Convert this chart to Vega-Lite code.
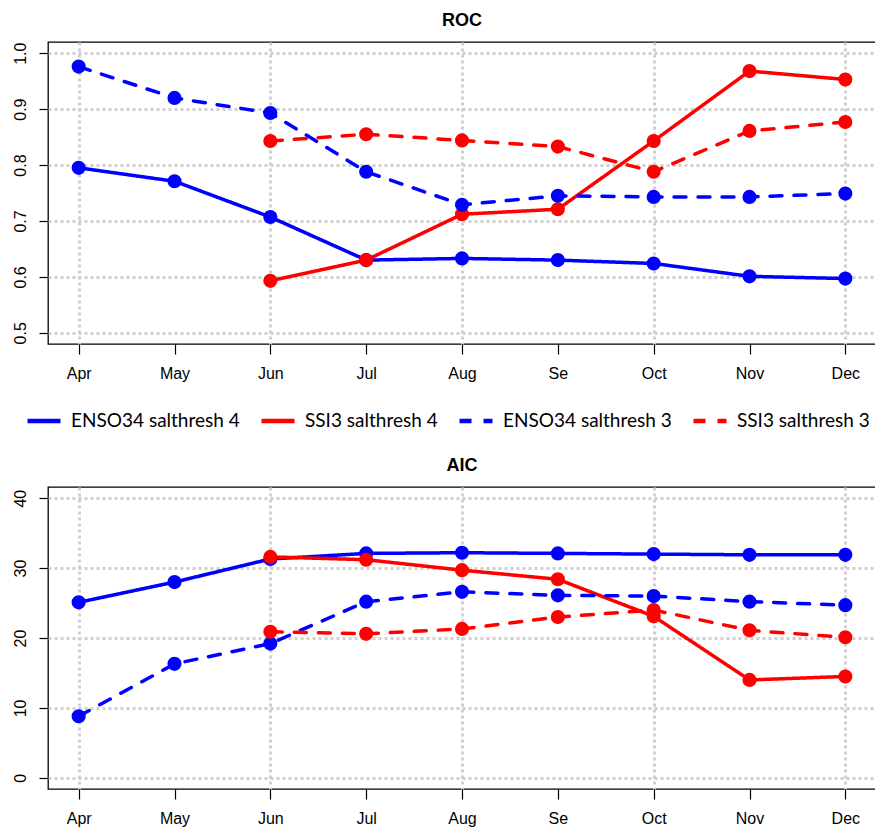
{
  "$schema": "https://vega.github.io/schema/vega-lite/v6.json",
  "padding": {"left": 11, "top": 11, "right": 0, "bottom": 0},
  "background": "white",
  "datasets": {
    "all": [
      {"metric": "ROC", "month": "Apr", "series": "ENSO34 salthresh 4", "value": 0.795},
      {"metric": "ROC", "month": "May", "series": "ENSO34 salthresh 4", "value": 0.771},
      {"metric": "ROC", "month": "Jun", "series": "ENSO34 salthresh 4", "value": 0.707},
      {"metric": "ROC", "month": "Jul", "series": "ENSO34 salthresh 4", "value": 0.630},
      {"metric": "ROC", "month": "Aug", "series": "ENSO34 salthresh 4", "value": 0.633},
      {"metric": "ROC", "month": "Se", "series": "ENSO34 salthresh 4", "value": 0.630},
      {"metric": "ROC", "month": "Oct", "series": "ENSO34 salthresh 4", "value": 0.624},
      {"metric": "ROC", "month": "Nov", "series": "ENSO34 salthresh 4", "value": 0.601},
      {"metric": "ROC", "month": "Dec", "series": "ENSO34 salthresh 4", "value": 0.597},
      {"metric": "ROC", "month": "Jun", "series": "SSI3 salthresh 4", "value": 0.593},
      {"metric": "ROC", "month": "Jul", "series": "SSI3 salthresh 4", "value": 0.630},
      {"metric": "ROC", "month": "Aug", "series": "SSI3 salthresh 4", "value": 0.712},
      {"metric": "ROC", "month": "Se", "series": "SSI3 salthresh 4", "value": 0.721},
      {"metric": "ROC", "month": "Oct", "series": "SSI3 salthresh 4", "value": 0.843},
      {"metric": "ROC", "month": "Nov", "series": "SSI3 salthresh 4", "value": 0.968},
      {"metric": "ROC", "month": "Dec", "series": "SSI3 salthresh 4", "value": 0.953},
      {"metric": "ROC", "month": "Apr", "series": "ENSO34 salthresh 3", "value": 0.976},
      {"metric": "ROC", "month": "May", "series": "ENSO34 salthresh 3", "value": 0.920},
      {"metric": "ROC", "month": "Jun", "series": "ENSO34 salthresh 3", "value": 0.893},
      {"metric": "ROC", "month": "Jul", "series": "ENSO34 salthresh 3", "value": 0.788},
      {"metric": "ROC", "month": "Aug", "series": "ENSO34 salthresh 3", "value": 0.729},
      {"metric": "ROC", "month": "Se", "series": "ENSO34 salthresh 3", "value": 0.745},
      {"metric": "ROC", "month": "Oct", "series": "ENSO34 salthresh 3", "value": 0.743},
      {"metric": "ROC", "month": "Nov", "series": "ENSO34 salthresh 3", "value": 0.743},
      {"metric": "ROC", "month": "Dec", "series": "ENSO34 salthresh 3", "value": 0.749},
      {"metric": "ROC", "month": "Jun", "series": "SSI3 salthresh 3", "value": 0.843},
      {"metric": "ROC", "month": "Jul", "series": "SSI3 salthresh 3", "value": 0.855},
      {"metric": "ROC", "month": "Aug", "series": "SSI3 salthresh 3", "value": 0.844},
      {"metric": "ROC", "month": "Se", "series": "SSI3 salthresh 3", "value": 0.833},
      {"metric": "ROC", "month": "Oct", "series": "SSI3 salthresh 3", "value": 0.788},
      {"metric": "ROC", "month": "Nov", "series": "SSI3 salthresh 3", "value": 0.861},
      {"metric": "ROC", "month": "Dec", "series": "SSI3 salthresh 3", "value": 0.877},
      {"metric": "AIC", "month": "Apr", "series": "ENSO34 salthresh 4", "value": 25.1},
      {"metric": "AIC", "month": "May", "series": "ENSO34 salthresh 4", "value": 28.0},
      {"metric": "AIC", "month": "Jun", "series": "ENSO34 salthresh 4", "value": 31.3},
      {"metric": "AIC", "month": "Jul", "series": "ENSO34 salthresh 4", "value": 32.1},
      {"metric": "AIC", "month": "Aug", "series": "ENSO34 salthresh 4", "value": 32.2},
      {"metric": "AIC", "month": "Se", "series": "ENSO34 salthresh 4", "value": 32.1},
      {"metric": "AIC", "month": "Oct", "series": "ENSO34 salthresh 4", "value": 32.0},
      {"metric": "AIC", "month": "Nov", "series": "ENSO34 salthresh 4", "value": 31.9},
      {"metric": "AIC", "month": "Dec", "series": "ENSO34 salthresh 4", "value": 31.9},
      {"metric": "AIC", "month": "Jun", "series": "SSI3 salthresh 4", "value": 31.6},
      {"metric": "AIC", "month": "Jul", "series": "SSI3 salthresh 4", "value": 31.2},
      {"metric": "AIC", "month": "Aug", "series": "SSI3 salthresh 4", "value": 29.7},
      {"metric": "AIC", "month": "Se", "series": "SSI3 salthresh 4", "value": 28.4},
      {"metric": "AIC", "month": "Oct", "series": "SSI3 salthresh 4", "value": 23.1},
      {"metric": "AIC", "month": "Nov", "series": "SSI3 salthresh 4", "value": 14.0},
      {"metric": "AIC", "month": "Dec", "series": "SSI3 salthresh 4", "value": 14.5},
      {"metric": "AIC", "month": "Apr", "series": "ENSO34 salthresh 3", "value": 8.8},
      {"metric": "AIC", "month": "May", "series": "ENSO34 salthresh 3", "value": 16.3},
      {"metric": "AIC", "month": "Jun", "series": "ENSO34 salthresh 3", "value": 19.2},
      {"metric": "AIC", "month": "Jul", "series": "ENSO34 salthresh 3", "value": 25.2},
      {"metric": "AIC", "month": "Aug", "series": "ENSO34 salthresh 3", "value": 26.6},
      {"metric": "AIC", "month": "Se", "series": "ENSO34 salthresh 3", "value": 26.1},
      {"metric": "AIC", "month": "Oct", "series": "ENSO34 salthresh 3", "value": 26.0},
      {"metric": "AIC", "month": "Nov", "series": "ENSO34 salthresh 3", "value": 25.2},
      {"metric": "AIC", "month": "Dec", "series": "ENSO34 salthresh 3", "value": 24.7},
      {"metric": "AIC", "month": "Jun", "series": "SSI3 salthresh 3", "value": 20.9},
      {"metric": "AIC", "month": "Jul", "series": "SSI3 salthresh 3", "value": 20.6},
      {"metric": "AIC", "month": "Aug", "series": "SSI3 salthresh 3", "value": 21.3},
      {"metric": "AIC", "month": "Se", "series": "SSI3 salthresh 3", "value": 23.0},
      {"metric": "AIC", "month": "Oct", "series": "SSI3 salthresh 3", "value": 24.0},
      {"metric": "AIC", "month": "Nov", "series": "SSI3 salthresh 3", "value": 21.1},
      {"metric": "AIC", "month": "Dec", "series": "SSI3 salthresh 3", "value": 20.1}
    ]
  },
  "vconcat": [
    {
      "title": {"text": "ROC"},
      "width": 828,
      "height": 302,
      "data": {"name": "all"},
      "transform": [{"filter": "datum.metric === 'ROC'"}],
      "encoding": {
        "x": {
          "field": "month", "type": "ordinal",
          "sort": ["Apr", "May", "Jun", "Jul", "Aug", "Se", "Oct", "Nov", "Dec"],
          "scale": {"type": "point", "padding": 0.32},
          "axis": {"labelAngle": 0, "grid": true, "gridOpacity": {"condition": {"test": "indexof(['Apr','Jun','Aug','Oct','Dec'], datum.value) >= 0", "value": 1}, "value": 0}}
        },
        "y": {
          "field": "value", "type": "quantitative",
          "scale": {"domain": [0.48, 1.02], "nice": false, "zero": false},
          "axis": {"values": [0.5, 0.6, 0.7, 0.8, 0.9, 1.0], "format": ".1f"}
        },
        "color": {
          "field": "series", "type": "nominal",
          "scale": {"domain": ["ENSO34 salthresh 4", "SSI3 salthresh 4", "ENSO34 salthresh 3", "SSI3 salthresh 3"], "range": ["#0000ff", "#ff0000", "#0000ff", "#ff0000"]},
          "legend": {"orient": "none", "legendX": -23, "legendY": 360, "direction": "horizontal", "title": null}
        }
      },
      "layer": [
        {
          "mark": {"type": "line", "strokeWidth": 3.5, "strokeCap": "round"},
          "encoding": {
            "strokeDash": {
              "field": "series", "type": "nominal",
              "scale": {"domain": ["ENSO34 salthresh 4", "SSI3 salthresh 4", "ENSO34 salthresh 3", "SSI3 salthresh 3"], "range": [[1, 0], [1, 0], [12, 12], [12, 12]]},
              "legend": {"orient": "none", "legendX": -23, "legendY": 360, "direction": "horizontal", "title": null}
            }
          }
        },
        {
          "mark": {"type": "point", "filled": true, "opacity": 1, "size": 200, "shape": "circle"}
        }
      ]
    },
    {
      "title": {"text": "AIC"},
      "width": 828,
      "height": 302,
      "data": {"name": "all"},
      "transform": [{"filter": "datum.metric === 'AIC'"}],
      "encoding": {
        "x": {
          "field": "month", "type": "ordinal",
          "sort": ["Apr", "May", "Jun", "Jul", "Aug", "Se", "Oct", "Nov", "Dec"],
          "scale": {"type": "point", "padding": 0.32},
          "axis": {"labelAngle": 0, "grid": true, "gridOpacity": {"condition": {"test": "indexof(['Apr','Jun','Aug','Oct','Dec'], datum.value) >= 0", "value": 1}, "value": 0}}
        },
        "y": {
          "field": "value", "type": "quantitative",
          "scale": {"domain": [-1.6, 41.6], "nice": false, "zero": false},
          "axis": {"values": [0, 10, 20, 30, 40]}
        },
        "color": {
          "field": "series", "type": "nominal",
          "scale": {"domain": ["ENSO34 salthresh 4", "SSI3 salthresh 4", "ENSO34 salthresh 3", "SSI3 salthresh 3"], "range": ["#0000ff", "#ff0000", "#0000ff", "#ff0000"]},
          "legend": null
        }
      },
      "layer": [
        {
          "mark": {"type": "line", "strokeWidth": 3.5, "strokeCap": "round"},
          "encoding": {
            "strokeDash": {
              "field": "series", "type": "nominal",
              "scale": {"domain": ["ENSO34 salthresh 4", "SSI3 salthresh 4", "ENSO34 salthresh 3", "SSI3 salthresh 3"], "range": [[1, 0], [1, 0], [12, 12], [12, 12]]},
              "legend": null
            }
          }
        },
        {
          "mark": {"type": "point", "filled": true, "opacity": 1, "size": 200, "shape": "circle"}
        }
      ]
    }
  ],
  "resolve": {"scale": {"color": "independent", "strokeDash": "independent"}, "legend": {"color": "independent", "strokeDash": "independent"}},
  "spacing": 24,
  "config": {
    "view": {"stroke": "black", "strokeWidth": 1.3},
    "title": {"font": "Liberation Sans", "fontSize": 18, "fontWeight": "bold", "color": "black", "anchor": "middle", "offset": 12},
    "axis": {
      "title": null,
      "domain": false,
      "labelFont": "Liberation Sans",
      "labelFontSize": 16,
      "labelColor": "black",
      "tickColor": "black",
      "tickWidth": 1.2,
      "gridColor": "#d0d0d0",
      "gridDash": [3, 3],
      "gridWidth": 3
    },
    "axisX": {
      "tickSize": 10,
      "labelPadding": 11
    },
    "axisY": {
      "tickSize": 9,
      "labelPadding": 11,
      "labelAngle": 270,
      "labelAlign": "center",
      "labelBaseline": "bottom"
    },
    "legend": {
      "symbolType": "stroke",
      "symbolSize": 1089,
      "symbolStrokeWidth": 4.5,
      "labelFont": "Lato",
      "labelFontSize": 19,
      "labelColor": "black",
      "labelOffset": 8,
      "columnPadding": 12,
      "labelLimit": 400
    }
  }
}
